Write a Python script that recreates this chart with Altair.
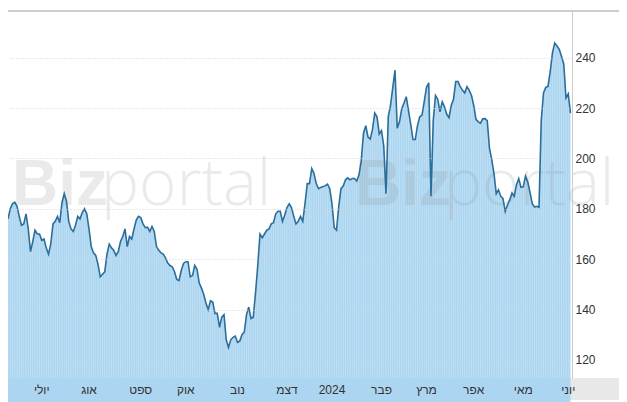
import altair as alt
import pandas as pd

# ---- data ----
values = [
    176, 180, 182, 182.6, 181, 177, 173.5, 174, 178, 172,
    163, 167, 171.5, 170, 170, 167.5, 168, 164.5, 162, 166,
    174, 175, 177, 174.5, 182.5, 186, 183, 175, 172, 171,
    173.5, 177, 176, 178.5, 180, 178, 172, 165, 162.5, 161.5,
    158, 153, 154, 155, 162, 166, 164.5, 163.5, 161.5, 163,
    167, 169, 172, 165, 169, 168, 172, 175.5, 177, 176.5,
    174, 172.5, 172.7, 171, 173, 171, 165, 163.5, 162.5, 162,
    160.5, 158.5, 157.5, 157, 155, 152, 151.5, 155.5, 158.3, 159,
    159, 153, 153.5, 157.5, 156, 150.5, 148.5, 146, 142.5, 140,
    143.5, 143, 138.5, 138.5, 133, 137, 138, 128, 125, 128,
    129, 129.5, 127, 127.5, 130, 131, 138, 141, 136.5, 137,
    146.5, 157.5, 170, 168.5, 170, 171.5, 172, 174, 174.5, 178,
    179, 179, 175, 177.5, 180.5, 182, 180.5, 177, 174, 175,
    177, 175, 182, 190, 190, 196, 194, 190, 188, 188.5,
    188.8, 189.2, 189.8, 188, 182, 172.5, 171.5, 181, 188, 189,
    191.5, 192.3, 191.5, 192, 192, 191, 193.5, 199, 210, 213,
    208.5, 207.7, 211.5, 218, 216.5, 209.7, 211, 205, 186, 216.5,
    221, 228, 235, 212, 214.5, 219.7, 222, 224.5, 219, 213.5,
    207.5, 207.5, 213, 216.5, 217.2, 222.5, 228.2, 230, 185, 215,
    225, 223.5, 218.5, 222.5, 220.5, 217.5, 216.2, 221, 223.5, 230.5,
    230.5, 228.5, 227, 226, 228.5, 227, 225, 221, 215.5, 214.5,
    214, 215.7, 215.8, 215, 204, 199.5, 194, 186, 187.5, 185,
    184, 179, 181.5, 183.6, 186.3, 185, 189.6, 192, 188.5, 188.7,
    193, 190.7, 186.5, 182, 180.7, 181, 180.6, 215, 226, 228.2,
    228.6, 234.5, 242, 245.8, 244.6, 243.3, 240.5, 237.5, 224, 225.6, 218,
]
month_labels = ["יולי", "אוג", "ספט", "אוק", "נוב", "דצמ", "2024",
                "פבר", "מרץ", "אפר", "מאי", "יוני"]
month_index = [15, 36, 59, 79, 102, 124, 144, 166, 186, 207, 229, 249]
y_ticks = [120, 140, 160, 180, 200, 220, 240]

df = pd.DataFrame({"i": list(range(len(values))), "v": values})
lab = pd.DataFrame({"i": month_index, "label": month_labels})

W, H = 564, 367
FONT = "Liberation Sans, Arial, DejaVu Sans"

xs = alt.Scale(domain=[0, 250.67], nice=False, zero=False)
ys = alt.Scale(domain=[112.85, 258.5], nice=False, zero=False)

x_enc = alt.X("i:Q", scale=xs, axis=None)
y_enc = alt.Y(
    "v:Q", scale=ys, title=None,
    axis=alt.Axis(
        orient="right", values=y_ticks, ticks=False, domain=True,
        domainColor="#cccccc", grid=True, gridColor="#cfd4da",
        gridDash=[1, 2], labelPadding=3, labelFontSize=12,
        labelColor="#333333", labelFont=FONT, zindex=1,
    ),
)

band = alt.Chart(df).mark_rect(color="#e8e8e8").encode(
    x=alt.value(0), x2=alt.value(611), y=alt.value(H), y2=alt.value(H + 22)
)
top_line = alt.Chart(df).mark_rule(color="#cccccc", strokeWidth=1).encode(
    x=alt.value(0), x2=alt.value(611), y=alt.value(0)
)

area = alt.Chart(df).mark_area(color="#abd5f0", opacity=1).encode(
    x=x_enc, y=y_enc, y2=alt.value(H)
)
stripes = alt.Chart(df).mark_rule(color="white", opacity=0.33, strokeWidth=0.7).encode(
    x=x_enc, y=y_enc, y2=alt.value(H)
)

wm_style = dict(color="#8a8a8a", opacity=0.17, fontSize=64, baseline="alphabetic",
                align="left")
wm = alt.Chart(pd.DataFrame({"t": ["Biz"]}))
wm1 = wm.mark_text(fontWeight="bold", font=FONT, **wm_style).encode(
    x=alt.value(4), y=alt.value(194), text="t:N")
wm2 = wm.mark_text(fontWeight=300, font="Open Sans, Lato, Liberation Sans", **wm_style).encode(
    x=alt.value(93), y=alt.value(194), text=alt.value("portal"))
wm3 = wm.mark_text(fontWeight="bold", font=FONT, **wm_style).encode(
    x=alt.value(347), y=alt.value(194), text="t:N")
wm4 = wm.mark_text(fontWeight=300, font="Open Sans, Lato, Liberation Sans", **wm_style).encode(
    x=alt.value(436), y=alt.value(194), text=alt.value("portal"))

line = alt.Chart(df).mark_line(color="#2b6e9c", strokeWidth=1.6).encode(
    x=x_enc, y=y_enc
)

xlabels = alt.Chart(lab).mark_text(
    font=FONT, fontSize=12, color="#333333", baseline="middle", align="center"
).encode(x=alt.X("i:Q", scale=xs, axis=None), y=alt.value(H + 12), text="label:N")

chart = alt.layer(
    band, top_line, area, stripes, wm1, wm2, wm3, wm4, line, xlabels
).properties(
    width=W, height=H,
    autosize=alt.AutoSizeParams(type="none"),
    padding={"left": 0, "top": 3, "right": 47, "bottom": 24},
    background="white",
).configure_view(stroke=None)

chart.save("out.html", embed_options={"renderer": "svg", "actions": False})
